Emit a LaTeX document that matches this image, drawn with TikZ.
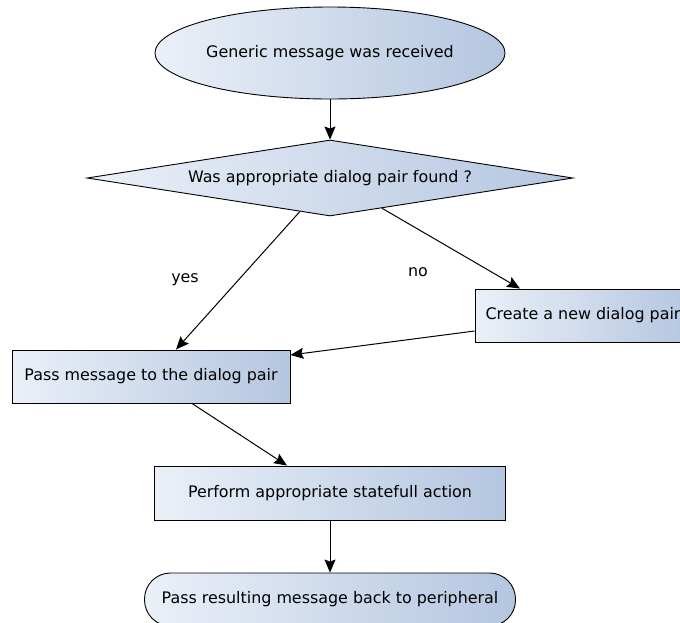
\documentclass[tikz,border=0pt]{standalone}
\usepackage{fontspec}
\setmainfont{DejaVu Sans}
\usetikzlibrary{shapes.geometric,arrows.meta}
\definecolor{gradL}{HTML}{EBF0F8}
\definecolor{gradR}{HTML}{B4C6E0}
\tikzset{
  shade/.style={draw=black, line width=0.9pt, left color=gradL, right color=gradR, shading angle=90, inner sep=0pt,
    font=\fontsize{15.9}{19}\selectfont},
  boxnode/.style={shade, rectangle},
  conn/.style={line width=1pt, -{Stealth[length=13pt,width=11pt,inset=2pt]}},
  lbl/.style={font=\fontsize{15.9}{19}\selectfont, inner sep=0pt}
}
\begin{document}
\begin{tikzpicture}[x=1pt,y=-1pt]
\useasboundingbox (0,0) rectangle (680,622);
\clip (0,0) rectangle (680,622);
\node[shade, ellipse, minimum width=298pt, minimum height=92pt] (start) at (330,53) {Generic message was received};
\node[shade, diamond, aspect=6.39, minimum width=486pt, minimum height=76pt] (dec) at (330,178) {Was appropriate dialog pair found ?};
\node[boxnode, minimum width=216pt, minimum height=53pt] (create) at (583,315.5) {Create a new dialog pair};
\node[boxnode, minimum width=278pt, minimum height=53pt] (pass) at (151,376.5) {Pass message to the dialog pair};
\node[boxnode, minimum width=351pt, minimum height=54pt] (perform) at (330,493) {Perform appropriate statefull action};
\node[shade, rectangle, rounded corners=26pt, minimum width=371pt, minimum height=53pt] (term) at (330,599.5) {Pass resulting message back to peripheral};
\node[lbl] (yes) at (185,280) {yes};
\node[lbl] (no) at (418,272) {no};
\draw[conn] (start) -- (dec);
\draw[conn] (dec) -- ([xshift=25pt]pass.north);
\draw[conn] (dec) -- ([xshift=-63pt]create.north);
\draw[conn] ([yshift=-15.5pt]create.west) -- ([yshift=21.5pt]pass.east);
\draw[conn] ([xshift=41pt]pass.south) -- ([xshift=-43pt]perform.north);
\draw[conn] (perform) -- (term);
\end{tikzpicture}
\end{document}
